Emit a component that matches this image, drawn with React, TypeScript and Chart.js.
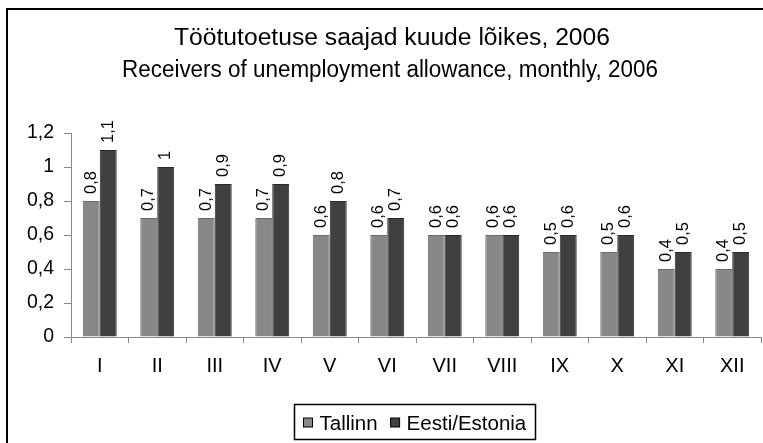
import React, { useEffect, useRef } from 'react';
import { Chart, registerables } from 'chart.js';

Chart.register(...registerables);

const months = ['I', 'II', 'III', 'IV', 'V', 'VI', 'VII', 'VIII', 'IX', 'X', 'XI', 'XII'];
const tallinn = [0.8, 0.7, 0.7, 0.7, 0.6, 0.6, 0.6, 0.6, 0.5, 0.5, 0.4, 0.4];
const estonia = [1.1, 1.0, 0.9, 0.9, 0.8, 0.7, 0.6, 0.6, 0.6, 0.6, 0.5, 0.5];
const seriesNames = ['Tallinn', 'Eesti/Estonia'];
const seriesColors = ['#888888', '#404040'];
const seriesBorders = ['#6a6a6a', '#2a2a2a'];
const titleLines = [
  'Töötutoetuse saajad kuude lõikes, 2006',
  'Receivers of unemployment allowance, monthly, 2006',
];
const yMin = 0;
const yMax = 1.2;
const yStep = 0.2;

const FONT = '"Liberation Sans", Arial, Helvetica, sans-serif';
const fmt = (v: number) => String(Number(Number(v).toFixed(1))).replace('.', ',');

function drawFitted(
  ctx: CanvasRenderingContext2D,
  text: string,
  cx: number,
  baseline: number,
  targetWidth: number
) {
  const w = ctx.measureText(text).width;
  ctx.save();
  ctx.translate(cx, baseline);
  ctx.scale(targetWidth / w, 1);
  ctx.textAlign = 'center';
  ctx.textBaseline = 'alphabetic';
  ctx.fillText(text, 0, 0);
  ctx.restore();
}

const decorPlugin = {
  id: 'decor',
  afterDraw(chart: any) {
    const ctx = chart.ctx as CanvasRenderingContext2D;
    ctx.save();
    // outer frame
    ctx.strokeStyle = '#000';
    ctx.lineWidth = 2;
    ctx.strokeRect(7, 9, 1000, 1000);

    // title
    ctx.fillStyle = '#000';
    ctx.font = `23px ${FONT}`;
    drawFitted(ctx, titleLines[0], 392, 44.5, 436);
    drawFitted(ctx, titleLines[1], 390, 76.5, 536);

    // data labels (rotated)
    ctx.font = `16.5px ${FONT}`;
    chart.data.datasets.forEach((ds: any, i: number) => {
      const meta = chart.getDatasetMeta(i);
      meta.data.forEach((bar: any, j: number) => {
        const { x, y } = bar.getProps(['x', 'y'], true);
        ctx.save();
        ctx.translate(x, y - 7);
        ctx.rotate(-Math.PI / 2);
        ctx.textAlign = 'left';
        ctx.textBaseline = 'middle';
        ctx.fillStyle = '#000';
        ctx.fillText(fmt(ds.data[j]), 0, 0);
        ctx.restore();
      });
    });

    // legend
    ctx.font = `20.5px ${FONT}`;
    ctx.textAlign = 'left';
    ctx.textBaseline = 'alphabetic';
    const items = chart.data.datasets.map((ds: any) => ({
      label: ds.label,
      color: ds.backgroundColor,
    }));
    const box = 9;
    const gap = 7;
    const itemGap = 13;
    const pad = 9;
    const widths = items.map((it: any) => box + gap + ctx.measureText(it.label).width);
    const total =
      pad * 2 + widths.reduce((a: number, b: number) => a + b, 0) + itemGap * (items.length - 1);
    const cx = 414;
    const left = Math.round(cx - total / 2) + 0.5;
    const top = 404.5;
    ctx.lineWidth = 1.5;
    ctx.strokeStyle = '#000';
    ctx.strokeRect(left, top, Math.round(total), 35);
    let x = left + pad;
    items.forEach((it: any, i: number) => {
      ctx.fillStyle = it.color;
      ctx.fillRect(x, 418, box, box);
      ctx.lineWidth = 1;
      ctx.strokeStyle = '#000';
      ctx.strokeRect(x, 418, box, box);
      ctx.fillStyle = '#000';
      ctx.fillText(it.label, x + box + gap, 430);
      x += widths[i] + itemGap;
    });
    ctx.restore();
  },
};

export default function App() {
  const ref = useRef<HTMLCanvasElement | null>(null);

  useEffect(() => {
    document.body.style.margin = '0';
    const canvas = ref.current;
    if (!canvas) return;
    const chart = new Chart(canvas, {
      type: 'bar',
      data: {
        labels: months,
        datasets: [
          {
            label: seriesNames[0],
            data: tallinn,
            backgroundColor: seriesColors[0],
            borderColor: seriesBorders[0],
            borderWidth: 1,
            categoryPercentage: 0.59,
            barPercentage: 1,
          },
          {
            label: seriesNames[1],
            data: estonia,
            backgroundColor: seriesColors[1],
            borderColor: seriesBorders[1],
            borderWidth: 1,
            categoryPercentage: 0.59,
            barPercentage: 1,
          },
        ],
      },
      options: {
        responsive: false,
        animation: false,
        devicePixelRatio: 1,
        layout: { padding: { top: 133, right: 2, bottom: 0, left: 0 } },
        plugins: {
          legend: { display: false },
          title: { display: false },
          tooltip: { enabled: false },
        },
        scales: {
          x: {
            grid: {
              display: true,
              drawOnChartArea: false,
              drawTicks: true,
              tickLength: 6,
              color: '#888',
              offset: true,
            },
            border: { color: '#888', width: 1 },
            ticks: {
              color: '#000',
              font: { size: 20, family: FONT },
              padding: 11,
              maxRotation: 0,
              autoSkip: false,
            },
            afterFit: (s: any) => {
              s.height = 106;
            },
          },
          y: {
            min: yMin,
            max: yMax,
            grid: {
              display: true,
              drawOnChartArea: false,
              drawTicks: true,
              tickLength: 7,
              color: '#888',
            },
            border: { color: '#888', width: 1 },
            ticks: {
              stepSize: yStep,
              color: '#000',
              font: { size: 19.5, family: FONT },
              padding: 10,
              callback: (v: any) => fmt(Number(v)),
            },
            afterFit: (s: any) => {
              s.width = 71;
            },
          },
        },
      },
      plugins: [decorPlugin],
    });
    return () => chart.destroy();
  }, []);

  return (
    <div style={{ position: 'absolute', left: 0, top: 0, width: 763, height: 443, background: '#fff' }}>
      <canvas ref={ref} width={763} height={443} style={{ display: 'block' }} />
    </div>
  );
}
